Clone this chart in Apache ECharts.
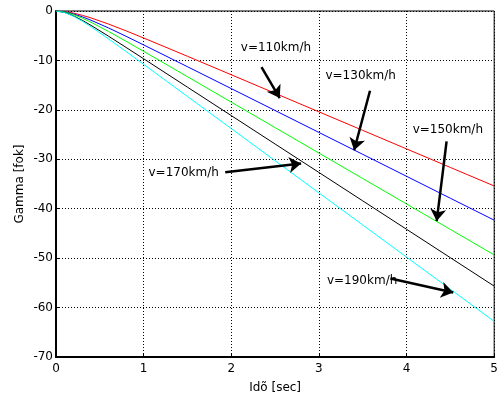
<!DOCTYPE html>
<html><head><meta charset="utf-8">
<script src="https://cdn.jsdelivr.net/npm/echarts@6/dist/echarts.min.js"></script>
<style>html,body{margin:0;padding:0;background:#fff}#c{width:501px;height:399px}</style>
</head><body><div id="c"></div>
<script>
var times = [0, 0.1, 0.2, 0.3, 0.4, 0.6, 0.8, 1, 1.5, 2, 2.5, 3, 3.5, 4, 4.5, 5];
var v110 = [0, -0.12, -0.43, -0.87, -1.40, -2.65, -4.02, -5.46, -9.16, -12.9, -16.65, -20.4, -24.15, -27.9, -31.65, -35.4];
var v130 = [0, -0.17, -0.59, -1.17, -1.87, -3.43, -5.12, -6.86, -11.27, -15.70, -20.13, -24.57, -29.0, -33.44, -37.88, -42.31];
var v150 = [0, -0.21, -0.73, -1.45, -2.28, -4.14, -6.13, -8.16, -13.29, -18.44, -23.59, -28.74, -33.89, -39.04, -44.19, -49.34];
var v170 = [0, -0.29, -0.99, -1.89, -2.91, -5.10, -7.37, -9.66, -15.41, -21.16, -26.91, -32.66, -38.41, -44.16, -49.91, -55.66];
var v190 = [0, -0.32, -1.07, -2.07, -3.20, -5.65, -8.21, -10.79, -17.29, -23.79, -30.29, -36.79, -43.29, -49.79, -56.29, -62.79];
var seriesNames = ['v=110km/h', 'v=130km/h', 'v=150km/h', 'v=170km/h', 'v=190km/h'];
var seriesColors = ['#ff0000', '#0000ff', '#00ff00', '#000000', '#00ffff'];
var labelPos = [[2.51, -7.46], [3.476, -13.05], [4.471, -24.15], [1.457, -32.74], [3.493, -54.61]];
var arrowFrom = [[2.345, -11.36], [3.583, -16.14], [4.457, -26.37], [1.931, -32.62], [3.816, -54.13]];
var arrowTo = [[2.553, -17.61], [3.402, -28.18], [4.344, -42.51], [2.797, -30.87], [4.533, -56.95]];
var xTicks = [0, 1, 2, 3, 4, 5];
var yTicks = [-70, -60, -50, -40, -30, -20, -10, 0];

var allValues = [v110, v130, v150, v170, v190];
var font = 'DejaVu Sans, sans-serif';
var series = allValues.map(function (vals, i) {
  return {
    name: seriesNames[i], type: 'line', showSymbol: false, smooth: false,
    lineStyle: { color: seriesColors[i], width: 1 }, itemStyle: { color: seriesColors[i] },
    data: times.map(function (t, k) { return [t, vals[k]]; }),
    z: 3
  };
});
series.push({
  type: 'line', data: [], z: 5,
  markLine: {
    silent: true, symbol: ['none', 'arrow'], symbolSize: 12, animation: false,
    lineStyle: { color: '#000', width: 2.5, type: 'solid' },
    itemStyle: { color: '#000' },
    label: { show: false },
    data: arrowFrom.map(function (p, i) { return [{ coord: p }, { coord: arrowTo[i] }]; })
  },
  markPoint: {
    silent: true, symbol: 'circle', symbolSize: 0, animation: false,
    label: { show: true, position: 'inside', color: '#000', fontFamily: font, fontSize: 12,
      formatter: function (p) { return p.name; } },
    data: labelPos.map(function (p, i) { return { name: seriesNames[i], coord: p }; })
  }
});

var chart = echarts.init(document.getElementById('c'), null, { renderer: 'canvas' });
chart.setOption({
  animation: false,
  backgroundColor: '#fff',
  grid: { left: 56, right: 3, top: 11, bottom: 41, show: true, borderColor: '#000', borderWidth: 1, backgroundColor: '#fff' },
  xAxis: {
    type: 'value', min: 0, max: 5, interval: 1,
    name: 'Idõ [sec]', nameLocation: 'middle', nameGap: 25,
    nameTextStyle: { color: '#000', fontFamily: font, fontSize: 12 },
    axisLine: { show: true, onZero: false, lineStyle: { color: '#000', width: 2 } },
    axisTick: { show: true, inside: true, length: 4, lineStyle: { color: '#000' } },
    axisLabel: { color: '#000', fontFamily: font, fontSize: 12, margin: 6,
      formatter: function (v) { return xTicks.indexOf(v) >= 0 ? String(v) : ''; } },
    splitLine: { show: true, lineStyle: { color: '#000', type: [1, 2], width: 1 } }
  },
  yAxis: {
    type: 'value', min: -70, max: 0, interval: 10,
    name: 'Gamma [fok]', nameLocation: 'middle', nameGap: 30,
    nameMoveOverlap: false,
    nameTextStyle: { color: '#000', fontFamily: font, fontSize: 12 },
    axisLine: { show: true, onZero: false, lineStyle: { color: '#000', width: 2 } },
    axisTick: { show: true, inside: true, length: 4, lineStyle: { color: '#000' } },
    axisLabel: { color: '#000', fontFamily: font, fontSize: 12, margin: 3,
      formatter: function (v) { return yTicks.indexOf(v) >= 0 ? String(v) : ''; } },
    splitLine: { show: true, lineStyle: { color: '#000', type: [1, 2], width: 1 } }
  },
  series: series
});
</script></body></html>
